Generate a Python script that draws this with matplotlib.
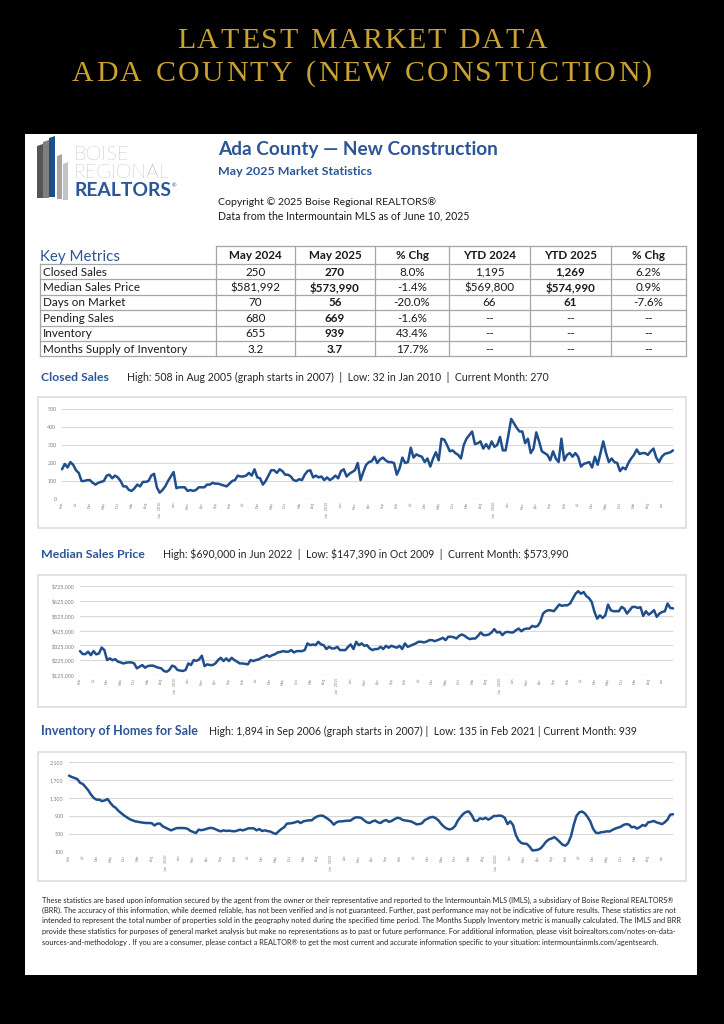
import matplotlib
matplotlib.use('Agg')
import matplotlib.pyplot as plt
import matplotlib.patches as mpatches
import numpy as np
import pandas as pd

plt.rcParams['font.family'] = ['Lato', 'DejaVu Sans']

W, H = 724, 1024
BLUE = '#2B5597'
LINE = '#1F4E8C'
GOLD = '#C9A233'
GRID = '#D9D9D9'

# ---- data -------------------------------------------------------------
title_lines = ['LATEST MARKET DATA', 'ADA COUNTY (NEW CONSTUCTION)']

table_cols = ['May 2024', 'May 2025', '% Chg', 'YTD 2024', 'YTD 2025', '% Chg']
metrics = ['Closed Sales', 'Median Sales Price', 'Days on Market',
           'Pending Sales', 'Inventory', 'Months Supply of Inventory']
may_2024 = ['250', '$581,992', '70', '680', '655', '3.2']
may_2025 = ['270', '$573,990', '56', '669', '939', '3.7']
chg_month = ['8.0%', '-1.4%', '-20.0%', '-1.6%', '43.4%', '17.7%']
ytd_2024 = ['1,195', '$569,800', '66', '--', '--', '--']
ytd_2025 = ['1,269', '$574,990', '61', '--', '--', '--']
chg_ytd = ['6.2%', '0.9%', '-7.6%', '--', '--', '--']

# monthly, Feb 2007 .. May 2025
closed_sales = [
    165, 195, 175, 205, 190, 160, 145, 100, 100, 105, 105,
    90, 80, 90, 95, 100, 130, 135, 115, 130, 120, 100, 70,
    70, 50, 45, 60, 80, 70, 95, 95, 100, 130, 140, 65,
    35, 50, 70, 100, 125, 150, 60, 65, 65, 65, 45, 50,
    45, 50, 65, 65, 65, 80, 80, 90, 85, 85, 80, 75,
    70, 85, 100, 105, 130, 125, 125, 130, 145, 130, 165, 120,
    115, 80, 100, 130, 160, 160, 145, 165, 155, 135, 135, 125,
    105, 100, 110, 105, 135, 155, 160, 120, 130, 120, 125, 105,
    120, 105, 115, 130, 115, 155, 165, 125, 140, 150, 160, 200,
    105, 150, 190, 205, 210, 235, 200, 220, 230, 215, 205, 205,
    200, 135, 170, 230, 200, 205, 285, 230, 248, 240, 235, 205,
    225, 180, 225, 260, 215, 335, 330, 300, 265, 270, 255, 245,
    225, 300, 335, 355, 375, 305, 310, 320, 280, 305, 280, 320,
    290, 300, 345, 270, 270, 355, 445, 420, 395, 375, 375, 310,
    335, 255, 280, 370, 320, 265, 255, 245, 215, 265, 225, 205,
    335, 215, 245, 255, 235, 255, 235, 180, 195, 200, 205, 175,
    235, 190, 255, 320, 255, 205, 225, 205, 200, 155, 175, 165,
    200, 225, 245, 275, 250, 255, 255, 245, 265, 280, 230, 205,
    235, 250, 255, 259, 270]

# thousands of dollars
median_price = [
    286, 266, 266, 282, 259, 286, 264, 270, 310, 293, 226,
    237, 225, 232, 215, 210, 203, 208, 210, 210, 203, 170, 181,
    192, 174, 185, 188, 188, 180, 174, 170, 152, 147, 159, 188,
    181, 159, 155, 152, 159, 203, 192, 226, 220, 230, 255, 185,
    197, 192, 192, 203, 226, 241, 219, 237, 219, 241, 226, 215,
    203, 203, 200, 197, 226, 219, 226, 230, 241, 248, 259, 248,
    259, 265, 277, 280, 286, 282, 282, 293, 277, 286, 286, 286,
    293, 338, 326, 331, 326, 349, 331, 326, 300, 315, 304, 304,
    315, 293, 293, 293, 315, 331, 300, 349, 326, 338, 322, 326,
    304, 293, 300, 300, 315, 300, 322, 309, 322, 315, 309, 322,
    300, 338, 315, 322, 330, 338, 349, 349, 345, 350, 360, 360,
    353, 360, 367, 376, 360, 383, 383, 380, 371, 389, 398, 390,
    376, 367, 371, 371, 389, 412, 394, 394, 398, 412, 434, 412,
    416, 394, 412, 416, 412, 412, 427, 438, 420, 434, 438, 438,
    456, 450, 455, 483, 539, 555, 562, 560, 555, 577, 600, 591,
    595, 595, 607, 640, 673, 690, 673, 684, 657, 643, 617, 550,
    505, 527, 510, 527, 600, 562, 555, 555, 555, 584, 573, 539,
    562, 584, 584, 577, 582, 523, 555, 532, 545, 562, 517, 539,
    550, 555, 607, 577, 574]

inventory = [
    1796, 1767, 1744, 1722, 1640, 1611, 1544, 1470, 1374, 1300, 1263,
    1263, 1230, 1248, 1278, 1190, 1120, 1078, 1010, 960, 910, 870, 830,
    804, 781, 770, 759, 750, 744, 744, 740, 690, 730, 730, 670,
    640, 610, 581, 605, 630, 633, 633, 630, 615, 570, 545, 522,
    596, 585, 596, 618, 633, 633, 610, 580, 560, 581, 567, 574,
    565, 559, 575, 596, 581, 600, 626, 626, 626, 581, 611, 567,
    581, 565, 555, 522, 500, 559, 611, 650, 730, 735, 744, 760,
    781, 744, 781, 795, 804, 804, 856, 890, 907, 907, 870, 830,
    780, 707, 759, 781, 781, 790, 796, 796, 840, 870, 870, 856,
    804, 760, 745, 780, 800, 760, 745, 790, 810, 770, 790, 830,
    860, 850, 810, 800, 790, 780, 750, 715, 720, 740, 810, 840,
    870, 880, 850, 800, 720, 660, 620, 600, 620, 680, 800, 880,
    950, 990, 1000, 920, 800, 790, 850, 830, 860, 820, 850, 900,
    900, 910, 900, 860, 720, 780, 700, 480, 360, 300, 285, 280,
    220, 135, 140, 150, 180, 250, 330, 380, 400, 430, 380, 320,
    260, 240, 300, 450, 700, 900, 980, 1000, 960, 880, 780, 620,
    530, 520, 540, 545, 560, 555, 590, 620, 640, 660, 700, 720,
    710, 650, 660, 620, 655, 700, 680, 760, 770, 790, 760, 740,
    720, 760, 820, 930, 939]

dates = pd.date_range('2007-02-01', periods=len(closed_sales), freq='MS')

footer = [
    "These statistics are based upon information secured by the agent from the owner or their representative and reported to the Intermountain MLS (IMLS), a subsidiary of Boise Regional REALTORS\u00ae",
    "(BRR). The accuracy of this information, while deemed reliable, has not been verified and is not guaranteed. Further, past performance may not be indicative of future results. These statistics are not",
    "intended to represent the total number of properties sold in the geography noted during the specified time period. The Months Supply Inventory metric is manually calculated. The IMLS and BRR",
    "provide these statistics for purposes of general market analysis but make no representations as to past or future performance. For additional information, please visit boirealtors.com/notes-on-data-",
    "sources-and-methodology . If you are a consumer, please contact a REALTOR\u00ae to get the most current and accurate information specific to your situation: intermountainmls.com/agentsearch.",
]

# ---- figure -----------------------------------------------------------
fig = plt.figure(figsize=(W / 100, H / 100), dpi=100, facecolor='black')
renderer = fig.canvas.get_renderer()

bg = fig.add_axes([0, 0, 1, 1])
bg.set_xlim(0, W)
bg.set_ylim(H, 0)
bg.axis('off')
bg.add_patch(mpatches.Rectangle((25, 134), 672, 841, facecolor='white', edgecolor='none'))


def txt(x, y, s, width=None, size=8, **kw):
    t = bg.text(x, y, s, fontsize=size, **kw)
    if width:
        w = t.get_window_extent(renderer).width
        t.set_fontsize(size * width / w)
    return t


def spaced(xc, y, s, width, size, **kw):
    ws, ts = [], []
    for ch in s:
        if ch == ' ':
            ws.append(size * 100 / 72 * 0.3)
            ts.append(None)
        else:
            t = bg.text(0, y, ch, fontsize=size, ha='left', va='baseline', **kw)
            ws.append(t.get_window_extent(renderer).width)
            ts.append(t)
    gap = (width - sum(ws)) / (len(s) - 1)
    x = xc - width / 2
    for t, w in zip(ts, ws):
        if t is not None:
            t.set_x(x)
        x += w + gap


# title
spaced(W / 2, 48, title_lines[0], 370, 21.5, color=GOLD, family='Liberation Serif')
spaced(W / 2, 81, title_lines[1], 580, 21.5, color=GOLD, family='Liberation Serif')

# logo bars
logo = [((37, 146), (43, 144), (43, 198), (37, 198), '#555555'),
        ((43, 142), (49, 140), (49, 198), (43, 198), '#7F7F7F'),
        ((49, 138), (55, 136), (55, 197), (49, 197), '#1F4E8C'),
        ((57, 156), (62, 154), (62, 199), (57, 199), '#A6A6A6'),
        ((63, 164), (68, 162), (68, 200), (63, 200), '#C4C4C4')]
for p1, p2, p3, p4, c in logo:
    bg.add_patch(mpatches.Polygon([p1, p2, p3, p4], closed=True, facecolor=c, edgecolor='none'))
txt(74, 160, 'BOISE', width=55, color='#8C8C8C', fontweight='light')
txt(74, 178, 'REGIONAL', width=95, color='#8C8C8C', fontweight='light')
txt(74, 196, 'REALTORS', width=97, color=BLUE, fontweight='bold')
txt(172, 187, '\u00ae', size=4, color=BLUE)

# header
txt(218, 155, 'Ada County \u2014 New Construction', width=279, color=BLUE, fontweight='bold')
txt(218, 175, 'May 2025 Market Statistics', width=155, color=BLUE, fontweight='bold')
txt(218, 205, 'Copyright \u00a9 2025 Boise Regional REALTORS\u00ae', width=217, color='#1A1A1A')
txt(218, 219, 'Data from the Intermountain MLS as of June 10, 2025', width=252, color='#1A1A1A')

# ---- key metrics table ------------------------------------------------
txt(40, 261, 'Key Metrics', width=80, color=BLUE)
cols = [40, 216, 295, 375, 449, 530, 611, 686]
rows = [246, 264] + [264 + 15.4 * (i + 1) for i in range(len(metrics))]
lc = '#A6A6A6'
for i, y in enumerate(rows):
    xs = 216 if i == 0 else 40
    bg.plot([xs, 686], [y, y], color=lc, lw=0.9)
bg.plot([40, 40], [rows[1], rows[-1]], color=lc, lw=0.9)
for x in cols[1:]:
    bg.plot([x, x], [rows[0], rows[-1]], color=lc, lw=0.9)

probe = txt(43, 0, metrics[-1], width=144)
tsize = probe.get_fontsize()
probe.remove()

for j, head in enumerate(table_cols):
    txt((cols[j + 1] + cols[j + 2]) / 2, (rows[0] + rows[1]) / 2 + 0.5, head, size=tsize,
        ha='center', va='center', fontweight='bold', color='#1A1A1A')
table_vals = [may_2024, may_2025, chg_month, ytd_2024, ytd_2025, chg_ytd]
for i, name in enumerate(metrics):
    yc = (rows[i + 1] + rows[i + 2]) / 2 + 0.5
    txt(43, yc, name, size=tsize, va='center', color='#1A1A1A')
    for j, vals in enumerate(table_vals):
        bold = j in (1, 4) and vals[i] != '--'
        txt((cols[j + 1] + cols[j + 2]) / 2, yc, vals[i], size=tsize, ha='center', va='center',
            fontweight='bold' if bold else 'normal', color='#1A1A1A')


# ---- charts -----------------------------------------------------------
def chart(title, tw, sub, sx, sw, ty, box, area, values, ylim, yticks, yfmt):
    txt(41, ty, title, width=tw, color=BLUE, fontweight='bold')
    txt(sx, ty, sub, width=sw, color='#262626')
    bx0, by0, bx1, by1 = box
    bg.add_patch(mpatches.Rectangle((bx0, by0), bx1 - bx0, by1 - by0, facecolor='white',
                                    edgecolor='#DDDDDD', lw=1.2))
    x0, y0, x1, y1 = area
    ax = fig.add_axes([x0 / W, 1 - y1 / H, (x1 - x0) / W, (y1 - y0) / H])
    ax.patch.set_alpha(0)
    ax.plot(np.arange(len(values)), values, color=LINE, lw=1.8, solid_joinstyle='round',
            solid_capstyle='round', clip_on=False)
    ax.set_xlim(0, len(values) - 1)
    ax.set_ylim(*ylim)
    ax.set_yticks(yticks)
    ax.set_yticklabels([yfmt(v) for v in yticks], fontsize=3.9, color='#808080')
    ax.grid(axis='y', color=GRID, lw=0.8)
    ax.set_axisbelow(True)
    for s in ax.spines.values():
        s.set_visible(False)
    ax.tick_params(length=0, pad=4)
    ax.tick_params(axis='x', pad=2)
    ticks = list(range(0, len(values), 5))
    labels = []
    for i in ticks:
        d = dates[i]
        lab = d.strftime('%b')
        if d.month == 1 and d.year < 2025:
            lab = d.strftime('%b   %Y')
        labels.append(lab)
    ax.set_xticks(ticks)
    ax.set_xticklabels(labels, rotation=90, fontsize=2.6, color='#808080', va='top')
    return ax


chart('Closed Sales', 69,
      'High: 508 in Aug 2005 (graph starts in 2007)  |  Low: 32 in Jan 2010  |  Current Month: 270',
      127, 422, 381, (38, 397, 686, 528), (62, 409, 673, 499),
      closed_sales, (0, 500), list(range(0, 501, 100)), lambda v: f'{v:d}')

chart('Median Sales Price', 105,
      'High: $690,000 in Jun 2022  |  Low: $147,390 in Oct 2009  |  Current Month: $573,990',
      163, 408, 558, (38, 575, 686, 707), (80, 586, 673, 675),
      median_price, (125, 725), list(range(125, 726, 100)), lambda v: f'${v * 1000:,d}')

chart('Inventory of Homes for Sale', 158,
      'High: 1,894 in Sep 2006 (graph starts in 2007) |  Low: 135 in Feb 2021 | Current Month: 939',
      209, 429, 735, (38, 752, 686, 881), (69, 762, 673, 852),
      inventory, (100, 2100), list(range(100, 2101, 400)), lambda v: f'{v:,d}')

# ---- footer -----------------------------------------------------------
fys = [900, 910.5, 921, 931.5, 942]
sizes = []
for k, line in enumerate(footer[:-1]):
    t = txt(42, fys[k], line, width=639, va='center', color='#262626')
    sizes.append(t.get_fontsize())
txt(42, fys[-1], footer[-1], size=np.mean(sizes), va='center', color='#262626')

fig.savefig('out.png', dpi=100, facecolor='black')
